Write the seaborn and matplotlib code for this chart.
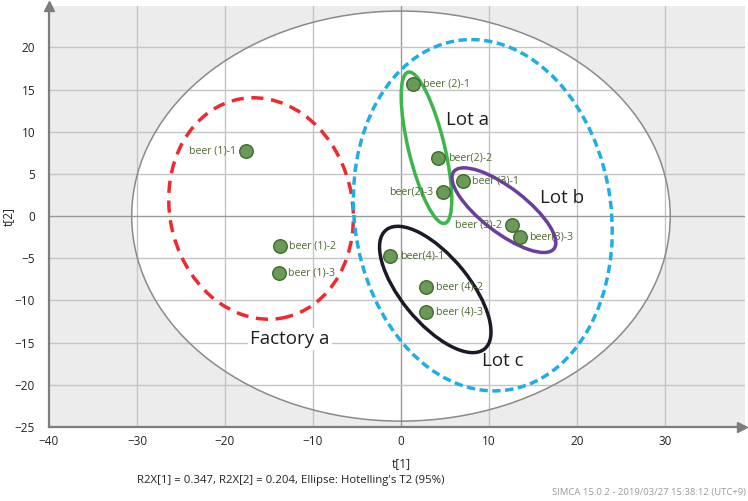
import matplotlib
matplotlib.use("Agg")
import numpy as np
import pandas as pd
import seaborn as sns
import matplotlib.pyplot as plt
from matplotlib.patches import Ellipse

# score values
sample_labels = ["beer (1)-1", "beer (1)-2", "beer (1)-3",
                 "beer (2)-1", "beer(2)-2", "beer(2)-3",
                 "beer (3)-1", "beer (3)-2", "beer(3)-3",
                 "beer(4)-1", "beer (4)-2", "beer (4)-3"]
t1 = [-17.6, -13.8, -13.9, 1.4, 4.2, 4.75, 7.0, 12.6, 13.5, -1.25, 2.9, 2.9]
t2 = [7.7, -3.6, -6.7, 15.7, 6.9, 2.8, 4.1, -1.1, -2.5, -4.7, -8.4, -11.4]
label_side = ["left", "right", "right", "right", "right", "left",
              "right", "left", "right", "right", "right", "right"]

# Hotelling T2 (95%) semi-axes
t2_axes = (30.6, 24.3)

# hand-drawn group ellipses: name, centre, width, height, angle
group_names = ["Factory a", "all lots", "Lot a", "Lot b", "Lot c"]
group_centres = [(-15.9, 0.9), (9.3, 0.1), (2.9, 8.1), (11.7, 0.7), (3.9, -8.7)]
group_sizes = [(20.8, 26.4), (29.2, 41.8), (4.1, 18.4), (14.6, 5.2), (18.0, 7.8)]
group_angles = [10, 7, 13, -39, -52]
group_colors = ["#ee2a2e", "#1eaee6", "#3cb54a", "#6a3d9f", "#1b1b28"]
group_dashed = [True, True, False, False, False]

group_text = ["Factory a", "Lot a", "Lot b", "Lot c"]
group_text_pos = [(-12.6, -14.6), (7.6, 11.4), (18.3, 2.2), (11.6, -17.2)]

x_major = [-40, -30, -20, -10, 0, 10, 20, 30]
y_major = [-25, -20, -15, -10, -5, 0, 5, 10, 15, 20]

df = pd.DataFrame({"t[1]": t1, "t[2]": t2, "label": sample_labels, "side": label_side})

sns.set_theme(style="white")
plt.rcParams["font.family"] = ["Open Sans", "DejaVu Sans"]

fig = plt.figure(figsize=(7.48, 5.01), dpi=100)
ax = fig.add_axes([49 / 748, 1 - 427 / 501, 696 / 748, 421 / 501])
ax.set_facecolor("#ececec")
ax.set_xlim(-40, 39.1)
ax.set_ylim(-25, 24.9)

# white inside of the T2 ellipse, grid on top, then its outline
ax.add_patch(Ellipse((0, 0), 2 * t2_axes[0], 2 * t2_axes[1], facecolor="white",
                     edgecolor="none", zorder=0.5))
for x in x_major[1:]:
    ax.axvline(x, color="#999999" if x == 0 else "#c4c4c4", lw=1, zorder=1)
for y in y_major[1:]:
    ax.axhline(y, color="#999999" if y == 0 else "#c4c4c4", lw=1, zorder=1)
ax.add_patch(Ellipse((0, 0), 2 * t2_axes[0], 2 * t2_axes[1], facecolor="none",
                     edgecolor="#8a8a8a", lw=1.1, zorder=1.5))

for c, (w, h), a, col, d in zip(group_centres, group_sizes, group_angles,
                                group_colors, group_dashed):
    ls = (0, (3.5, 2.2)) if d else "-"
    if col == "#1eaee6":
        ls = (0, (2.4, 1.3))
    ax.add_patch(Ellipse(c, w, h, angle=a, facecolor="none", edgecolor=col,
                         lw=2.5, linestyle=ls, zorder=2))

sns.scatterplot(data=df, x="t[1]", y="t[2]", ax=ax, s=95, color="#6a9a58",
                edgecolor="#3e6a2c", linewidth=1, zorder=3, legend=False)

for _, r in df.iterrows():
    off = (-7, 0) if r["side"] == "left" else (7, 0)
    ax.annotate(r["label"], (r["t[1]"], r["t[2]"]), xytext=off,
                textcoords="offset points", va="center",
                ha="right" if r["side"] == "left" else "left",
                fontsize=7.6, color="#4d6a2e", zorder=4)

for txt, (x, y) in zip(group_text, group_text_pos):
    kw = {}
    if txt == "Factory a":
        kw["bbox"] = dict(facecolor="white", edgecolor="none", pad=1.5)
    ax.text(x, y, txt, ha="center", va="center", fontsize=13.5,
            color="#1e1e1e", zorder=4, **kw)

# axes with arrows
for s in ["top", "right"]:
    ax.spines[s].set_visible(False)
for s in ["left", "bottom"]:
    ax.spines[s].set_color("#7d7d7d")
    ax.spines[s].set_linewidth(1.6)
ax.plot(0, 1, "^", transform=ax.transAxes, clip_on=False, color="#7d7d7d", ms=7, zorder=5)
ax.plot(0.995, 0, ">", transform=ax.transAxes, clip_on=False, color="#7d7d7d", ms=7, zorder=5)

ax.set_xticks(x_major)
ax.set_yticks(y_major)
ax.set_xticks(np.arange(-35, 39, 10), minor=True)
ax.set_yticks(np.arange(-22.5, 24, 5), minor=True)
ax.tick_params(which="both", direction="out", color="#7d7d7d", labelsize=8.5,
               labelcolor="#222222", width=1)
ax.tick_params(which="major", length=4)
ax.tick_params(which="minor", length=3)
ax.tick_params(axis="x", pad=2)
ax.tick_params(axis="y", pad=6)

ax.set_xlabel("t[1]", fontsize=8.5, color="#222222")
ax.set_ylabel("t[2]", fontsize=8.5, color="#222222")
ax.xaxis.set_label_coords(0.506, -0.072)
ax.yaxis.set_label_coords(-0.049, 0.501)

fig.text(137 / 748, 1 - 480 / 501,
         "R2X[1] = 0.347, R2X[2] = 0.204, Ellipse: Hotelling's T2 (95%)",
         va="center", fontsize=8.2, color="#222222")
fig.text(0.997, 1 - 493 / 501, "SIMCA 15.0.2 - 2019/03/27 15:38:12 (UTC+9)",
         va="center", ha="right", fontsize=6.8, color="#9a9a9a")

fig.savefig("out.png", dpi=100)
